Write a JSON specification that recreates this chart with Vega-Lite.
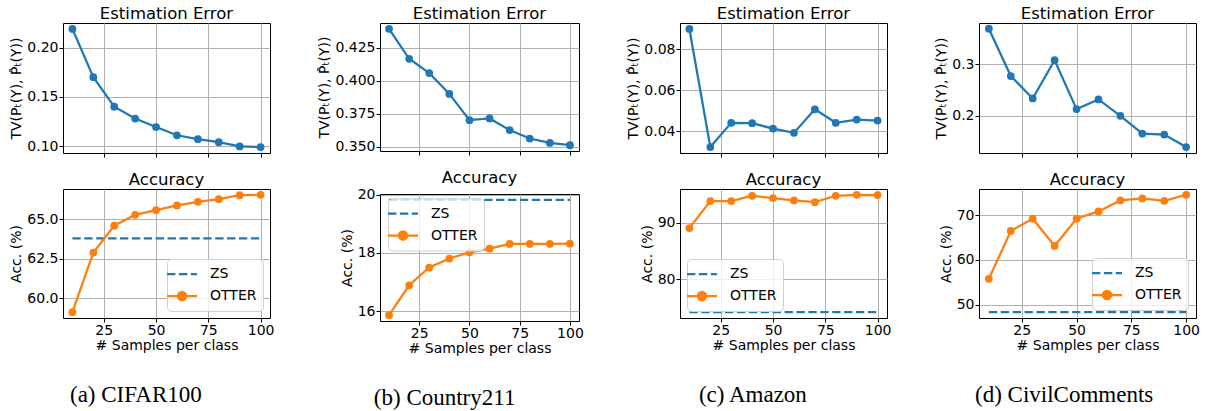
{
  "$schema": "https://vega.github.io/schema/vega-lite/v6.json",
  "padding": {"left": 9, "top": 5, "right": 5, "bottom": 4},
  "background": "white",
  "config": {
    "font": "DejaVu Sans",
    "view": {"stroke": "black", "strokeWidth": 1},
    "axis": {"labelFont": "DejaVu Sans", "labelFontSize": 14, "labelColor": "black", "titleFont": "DejaVu Sans", "titleFontSize": 14, "titleFontWeight": "normal", "titleColor": "black", "tickColor": "black", "tickSize": 4, "tickWidth": 1, "domain": false, "gridColor": "#b0b0b0", "gridWidth": 1, "labelPadding": 1, "titlePadding": 3, "labelFlush": false, "labelOverlap": false},
    "axisX": {"titlePadding": 1},
    "title": {"font": "DejaVu Sans", "fontSize": 16.5, "fontWeight": "normal", "color": "black", "offset": 1},
    "legend": {"title": null, "offset": 7, "padding": 6, "strokeColor": "#d0d0d0", "fillColor": "rgba(255,255,255,0.8)", "cornerRadius": 4, "labelFont": "DejaVu Sans", "labelFontSize": 14, "labelColor": "black", "symbolSize": 225, "symbolStrokeWidth": 2.25, "labelOffset": 19, "rowPadding": 6}
  },
  "datasets": {
    "tv": [
      {"d": "a", "n": 10, "v": 0.219}, {"d": "a", "n": 20, "v": 0.170}, {"d": "a", "n": 30, "v": 0.140}, {"d": "a", "n": 40, "v": 0.128}, {"d": "a", "n": 50, "v": 0.1194}, {"d": "a", "n": 60, "v": 0.111}, {"d": "a", "n": 70, "v": 0.107}, {"d": "a", "n": 80, "v": 0.104}, {"d": "a", "n": 90, "v": 0.0997}, {"d": "a", "n": 100, "v": 0.099},
      {"d": "b", "n": 10, "v": 0.4391}, {"d": "b", "n": 20, "v": 0.4165}, {"d": "b", "n": 30, "v": 0.4057}, {"d": "b", "n": 40, "v": 0.390}, {"d": "b", "n": 50, "v": 0.3702}, {"d": "b", "n": 60, "v": 0.3715}, {"d": "b", "n": 70, "v": 0.3627}, {"d": "b", "n": 80, "v": 0.3563}, {"d": "b", "n": 90, "v": 0.353}, {"d": "b", "n": 100, "v": 0.3513},
      {"d": "c", "n": 10, "v": 0.0898}, {"d": "c", "n": 20, "v": 0.0323}, {"d": "c", "n": 30, "v": 0.0441}, {"d": "c", "n": 40, "v": 0.0439}, {"d": "c", "n": 50, "v": 0.0413}, {"d": "c", "n": 60, "v": 0.0392}, {"d": "c", "n": 70, "v": 0.0507}, {"d": "c", "n": 80, "v": 0.0441}, {"d": "c", "n": 90, "v": 0.0457}, {"d": "c", "n": 100, "v": 0.0452},
      {"d": "d", "n": 10, "v": 0.3689}, {"d": "d", "n": 20, "v": 0.2772}, {"d": "d", "n": 30, "v": 0.2337}, {"d": "d", "n": 40, "v": 0.3078}, {"d": "d", "n": 50, "v": 0.2131}, {"d": "d", "n": 60, "v": 0.2318}, {"d": "d", "n": 70, "v": 0.200}, {"d": "d", "n": 80, "v": 0.1657}, {"d": "d", "n": 90, "v": 0.1637}, {"d": "d", "n": 100, "v": 0.1396}
    ],
    "acc": [
      {"d": "a", "s": "ZS", "n": 10, "v": 63.78}, {"d": "a", "s": "ZS", "n": 100, "v": 63.78},
      {"d": "a", "s": "OTTER", "n": 10, "v": 59.12}, {"d": "a", "s": "OTTER", "n": 20, "v": 62.88}, {"d": "a", "s": "OTTER", "n": 30, "v": 64.58}, {"d": "a", "s": "OTTER", "n": 40, "v": 65.27}, {"d": "a", "s": "OTTER", "n": 50, "v": 65.57}, {"d": "a", "s": "OTTER", "n": 60, "v": 65.86}, {"d": "a", "s": "OTTER", "n": 70, "v": 66.09}, {"d": "a", "s": "OTTER", "n": 80, "v": 66.26}, {"d": "a", "s": "OTTER", "n": 90, "v": 66.51}, {"d": "a", "s": "OTTER", "n": 100, "v": 66.53},
      {"d": "b", "s": "ZS", "n": 10, "v": 19.83}, {"d": "b", "s": "ZS", "n": 100, "v": 19.83},
      {"d": "b", "s": "OTTER", "n": 10, "v": 15.86}, {"d": "b", "s": "OTTER", "n": 20, "v": 16.89}, {"d": "b", "s": "OTTER", "n": 30, "v": 17.50}, {"d": "b", "s": "OTTER", "n": 40, "v": 17.81}, {"d": "b", "s": "OTTER", "n": 50, "v": 18.02}, {"d": "b", "s": "OTTER", "n": 60, "v": 18.15}, {"d": "b", "s": "OTTER", "n": 70, "v": 18.31}, {"d": "b", "s": "OTTER", "n": 80, "v": 18.31}, {"d": "b", "s": "OTTER", "n": 90, "v": 18.31}, {"d": "b", "s": "OTTER", "n": 100, "v": 18.32},
      {"d": "c", "s": "ZS", "n": 10, "v": 74.14}, {"d": "c", "s": "ZS", "n": 100, "v": 74.14},
      {"d": "c", "s": "OTTER", "n": 10, "v": 89.06}, {"d": "c", "s": "OTTER", "n": 20, "v": 93.85}, {"d": "c", "s": "OTTER", "n": 30, "v": 93.85}, {"d": "c", "s": "OTTER", "n": 40, "v": 94.8}, {"d": "c", "s": "OTTER", "n": 50, "v": 94.39}, {"d": "c", "s": "OTTER", "n": 60, "v": 93.96}, {"d": "c", "s": "OTTER", "n": 70, "v": 93.67}, {"d": "c", "s": "OTTER", "n": 80, "v": 94.8}, {"d": "c", "s": "OTTER", "n": 90, "v": 94.97}, {"d": "c", "s": "OTTER", "n": 100, "v": 94.92},
      {"d": "d", "s": "ZS", "n": 10, "v": 48.36}, {"d": "d", "s": "ZS", "n": 100, "v": 48.36},
      {"d": "d", "s": "OTTER", "n": 10, "v": 55.78}, {"d": "d", "s": "OTTER", "n": 20, "v": 66.44}, {"d": "d", "s": "OTTER", "n": 30, "v": 69.18}, {"d": "d", "s": "OTTER", "n": 40, "v": 63.11}, {"d": "d", "s": "OTTER", "n": 50, "v": 69.18}, {"d": "d", "s": "OTTER", "n": 60, "v": 70.81}, {"d": "d", "s": "OTTER", "n": 70, "v": 73.26}, {"d": "d", "s": "OTTER", "n": 80, "v": 73.7}, {"d": "d", "s": "OTTER", "n": 90, "v": 73.18}, {"d": "d", "s": "OTTER", "n": 100, "v": 74.51}
    ]
  },
  "spacing": 42,
  "resolve": {"scale": {"color": "independent"}, "legend": {"color": "independent"}},
  "hconcat": [
    {
      "spacing": 13,
      "resolve": {"scale": {"color": "independent"}, "legend": {"color": "independent"}},
      "title": {"text": "(a) CIFAR100", "orient": "bottom", "anchor": "middle", "font": "Liberation Serif", "fontSize": 23, "fontWeight": "normal", "offset": 31, "dx": -6},
      "vconcat": [
        {
          "width": 207, "height": 130, "title": "Estimation Error",
          "data": {"name": "tv"}, "transform": [{"filter": "datum.d === 'a'"}],
          "mark": {"type": "line", "color": "#1f77b4", "strokeWidth": 2.25, "point": {"filled": true, "size": 60, "color": "#1f77b4", "opacity": 1}},
          "encoding": {
            "x": {"field": "n", "type": "quantitative", "scale": {"domain": [5.5, 104.5], "nice": false}, "axis": {"values": [25, 50, 75, 100], "labels": false, "title": null}},
            "y": {"field": "v", "type": "quantitative", "scale": {"domain": [0.093, 0.225], "nice": false, "zero": false}, "axis": {"values": [0.1, 0.15, 0.2], "format": ".2f", "title": "TV(P\u209c(Y), P\u0302\u209c(Y))"}}
          }
        },
        {
          "width": 207, "height": 129, "title": "Accuracy",
          "data": {"name": "acc"}, "transform": [{"filter": "datum.d === 'a'"}],
          "encoding": {
            "x": {"field": "n", "type": "quantitative", "scale": {"domain": [5.5, 104.5], "nice": false}, "axis": {"values": [25, 50, 75, 100], "title": "# Samples per class"}},
            "y": {"field": "v", "type": "quantitative", "scale": {"domain": [58.75, 66.9], "nice": false, "zero": false}, "axis": {"values": [60, 62.5, 65], "format": ".1f", "title": "Acc. (%)"}},
            "color": {"field": "s", "type": "nominal", "scale": {"domain": ["ZS", "OTTER"], "range": ["#1f77b4", "#ff7f0e"]},
              "legend": {"orient": "bottom-right", "encode": {"symbols": {"update": {
                "shape": {"signal": "datum.value === 'ZS' ? 'M-2,0H-0.89M-0.41,0H0.7M1.18,0H2' : 'M-2,0H2M0.55,0A0.55,0.55 0 1,1 -0.55,0A0.55,0.55 0 1,1 0.55,0Z'"},
                "fill": {"signal": "datum.value === 'ZS' ? 'transparent' : '#ff7f0e'"},
                "stroke": {"signal": "datum.value === 'ZS' ? '#1f77b4' : '#ff7f0e'"},
                "strokeWidth": {"value": 2.25}, "opacity": {"value": 1}}}}}}
          },
          "layer": [
            {"transform": [{"filter": "datum.s === 'ZS'"}], "mark": {"type": "line", "strokeDash": [8.3, 3.6], "strokeWidth": 2.25}},
            {"transform": [{"filter": "datum.s === 'OTTER'"}], "mark": {"type": "line", "strokeWidth": 2.25, "point": {"filled": true, "size": 60, "opacity": 1}}}
          ]
        }
      ]
    },
    {
      "spacing": 13,
      "resolve": {"scale": {"color": "independent"}, "legend": {"color": "independent"}},
      "title": {"text": "(b) Country211", "orient": "bottom", "anchor": "middle", "font": "Liberation Serif", "fontSize": 23, "fontWeight": "normal", "offset": 31, "dx": -6},
      "vconcat": [
        {
          "width": 199, "height": 128, "title": "Estimation Error",
          "data": {"name": "tv"}, "transform": [{"filter": "datum.d === 'b'"}],
          "mark": {"type": "line", "color": "#1f77b4", "strokeWidth": 2.25, "point": {"filled": true, "size": 60, "color": "#1f77b4", "opacity": 1}},
          "encoding": {
            "x": {"field": "n", "type": "quantitative", "scale": {"domain": [5.5, 104.5], "nice": false}, "axis": {"values": [25, 50, 75, 100], "labels": false, "title": null}},
            "y": {"field": "v", "type": "quantitative", "scale": {"domain": [0.3469, 0.4435], "nice": false, "zero": false}, "axis": {"values": [0.35, 0.375, 0.4, 0.425], "format": ".3f", "title": "TV(P\u209c(Y), P\u0302\u209c(Y))"}}
          }
        },
        {
          "width": 199, "height": 127, "title": "Accuracy",
          "data": {"name": "acc"}, "transform": [{"filter": "datum.d === 'b'"}],
          "encoding": {
            "x": {"field": "n", "type": "quantitative", "scale": {"domain": [5.5, 104.5], "nice": false}, "axis": {"values": [25, 50, 75, 100], "title": "# Samples per class"}},
            "y": {"field": "v", "type": "quantitative", "scale": {"domain": [15.66, 20.03], "nice": false, "zero": false}, "axis": {"values": [16, 18, 20], "format": "d", "title": "Acc. (%)"}},
            "color": {"field": "s", "type": "nominal", "scale": {"domain": ["ZS", "OTTER"], "range": ["#1f77b4", "#ff7f0e"]},
              "legend": {"orient": "none", "legendX": 8, "legendY": 4.5, "encode": {"symbols": {"update": {
                "shape": {"signal": "datum.value === 'ZS' ? 'M-2,0H-0.89M-0.41,0H0.7M1.18,0H2' : 'M-2,0H2M0.55,0A0.55,0.55 0 1,1 -0.55,0A0.55,0.55 0 1,1 0.55,0Z'"},
                "fill": {"signal": "datum.value === 'ZS' ? 'transparent' : '#ff7f0e'"},
                "stroke": {"signal": "datum.value === 'ZS' ? '#1f77b4' : '#ff7f0e'"},
                "strokeWidth": {"value": 2.25}, "opacity": {"value": 1}}}}}}
          },
          "layer": [
            {"transform": [{"filter": "datum.s === 'ZS'"}], "mark": {"type": "line", "strokeDash": [8.3, 3.6], "strokeWidth": 2.25}},
            {"transform": [{"filter": "datum.s === 'OTTER'"}], "mark": {"type": "line", "strokeWidth": 2.25, "point": {"filled": true, "size": 60, "opacity": 1}}}
          ]
        }
      ]
    },
    {
      "spacing": 13,
      "resolve": {"scale": {"color": "independent"}, "legend": {"color": "independent"}},
      "title": {"text": "(c) Amazon", "orient": "bottom", "anchor": "middle", "font": "Liberation Serif", "fontSize": 23, "fontWeight": "normal", "offset": 31, "dx": -6},
      "vconcat": [
        {
          "width": 207, "height": 130, "title": "Estimation Error",
          "data": {"name": "tv"}, "transform": [{"filter": "datum.d === 'c'"}],
          "mark": {"type": "line", "color": "#1f77b4", "strokeWidth": 2.25, "point": {"filled": true, "size": 60, "color": "#1f77b4", "opacity": 1}},
          "encoding": {
            "x": {"field": "n", "type": "quantitative", "scale": {"domain": [5.5, 104.5], "nice": false}, "axis": {"values": [25, 50, 75, 100], "labels": false, "title": null}},
            "y": {"field": "v", "type": "quantitative", "scale": {"domain": [0.0294, 0.0927], "nice": false, "zero": false}, "axis": {"values": [0.04, 0.06, 0.08], "format": ".2f", "title": "TV(P\u209c(Y), P\u0302\u209c(Y))"}}
          }
        },
        {
          "width": 207, "height": 129, "title": "Accuracy",
          "data": {"name": "acc"}, "transform": [{"filter": "datum.d === 'c'"}],
          "encoding": {
            "x": {"field": "n", "type": "quantitative", "scale": {"domain": [5.5, 104.5], "nice": false}, "axis": {"values": [25, 50, 75, 100], "title": "# Samples per class"}},
            "y": {"field": "v", "type": "quantitative", "scale": {"domain": [73.1, 96.0], "nice": false, "zero": false}, "axis": {"values": [80, 90], "format": "d", "title": "Acc. (%)"}},
            "color": {"field": "s", "type": "nominal", "scale": {"domain": ["ZS", "OTTER"], "range": ["#1f77b4", "#ff7f0e"]},
              "legend": {"orient": "bottom-left", "encode": {"symbols": {"update": {
                "shape": {"signal": "datum.value === 'ZS' ? 'M-2,0H-0.89M-0.41,0H0.7M1.18,0H2' : 'M-2,0H2M0.55,0A0.55,0.55 0 1,1 -0.55,0A0.55,0.55 0 1,1 0.55,0Z'"},
                "fill": {"signal": "datum.value === 'ZS' ? 'transparent' : '#ff7f0e'"},
                "stroke": {"signal": "datum.value === 'ZS' ? '#1f77b4' : '#ff7f0e'"},
                "strokeWidth": {"value": 2.25}, "opacity": {"value": 1}}}}}}
          },
          "layer": [
            {"transform": [{"filter": "datum.s === 'ZS'"}], "mark": {"type": "line", "strokeDash": [8.3, 3.6], "strokeWidth": 2.25}},
            {"transform": [{"filter": "datum.s === 'OTTER'"}], "mark": {"type": "line", "strokeWidth": 2.25, "point": {"filled": true, "size": 60, "opacity": 1}}}
          ]
        }
      ]
    },
    {
      "spacing": 13,
      "resolve": {"scale": {"color": "independent"}, "legend": {"color": "independent"}},
      "title": {"text": "(d) CivilComments", "orient": "bottom", "anchor": "middle", "font": "Liberation Serif", "fontSize": 23, "fontWeight": "normal", "offset": 31, "dx": -3},
      "vconcat": [
        {
          "width": 217, "height": 130, "title": "Estimation Error",
          "data": {"name": "tv"}, "transform": [{"filter": "datum.d === 'd'"}],
          "mark": {"type": "line", "color": "#1f77b4", "strokeWidth": 2.25, "point": {"filled": true, "size": 60, "color": "#1f77b4", "opacity": 1}},
          "encoding": {
            "x": {"field": "n", "type": "quantitative", "scale": {"domain": [5.5, 104.5], "nice": false}, "axis": {"values": [25, 50, 75, 100], "labels": false, "title": null}},
            "y": {"field": "v", "type": "quantitative", "scale": {"domain": [0.128, 0.380], "nice": false, "zero": false}, "axis": {"values": [0.2, 0.3], "format": ".1f", "title": "TV(P\u209c(Y), P\u0302\u209c(Y))"}}
          }
        },
        {
          "width": 217, "height": 129, "title": "Accuracy",
          "data": {"name": "acc"}, "transform": [{"filter": "datum.d === 'd'"}],
          "encoding": {
            "x": {"field": "n", "type": "quantitative", "scale": {"domain": [5.5, 104.5], "nice": false}, "axis": {"values": [25, 50, 75, 100], "title": "# Samples per class"}},
            "y": {"field": "v", "type": "quantitative", "scale": {"domain": [47.05, 75.8], "nice": false, "zero": false}, "axis": {"values": [50, 60, 70], "format": "d", "title": "Acc. (%)"}},
            "color": {"field": "s", "type": "nominal", "scale": {"domain": ["ZS", "OTTER"], "range": ["#1f77b4", "#ff7f0e"]},
              "legend": {"orient": "bottom-right", "offset": 8, "encode": {"symbols": {"update": {
                "shape": {"signal": "datum.value === 'ZS' ? 'M-2,0H-0.89M-0.41,0H0.7M1.18,0H2' : 'M-2,0H2M0.55,0A0.55,0.55 0 1,1 -0.55,0A0.55,0.55 0 1,1 0.55,0Z'"},
                "fill": {"signal": "datum.value === 'ZS' ? 'transparent' : '#ff7f0e'"},
                "stroke": {"signal": "datum.value === 'ZS' ? '#1f77b4' : '#ff7f0e'"},
                "strokeWidth": {"value": 2.25}, "opacity": {"value": 1}}}}}}
          },
          "layer": [
            {"transform": [{"filter": "datum.s === 'ZS'"}], "mark": {"type": "line", "strokeDash": [8.3, 3.6], "strokeWidth": 2.25}},
            {"transform": [{"filter": "datum.s === 'OTTER'"}], "mark": {"type": "line", "strokeWidth": 2.25, "point": {"filled": true, "size": 60, "opacity": 1}}}
          ]
        }
      ]
    }
  ]
}
